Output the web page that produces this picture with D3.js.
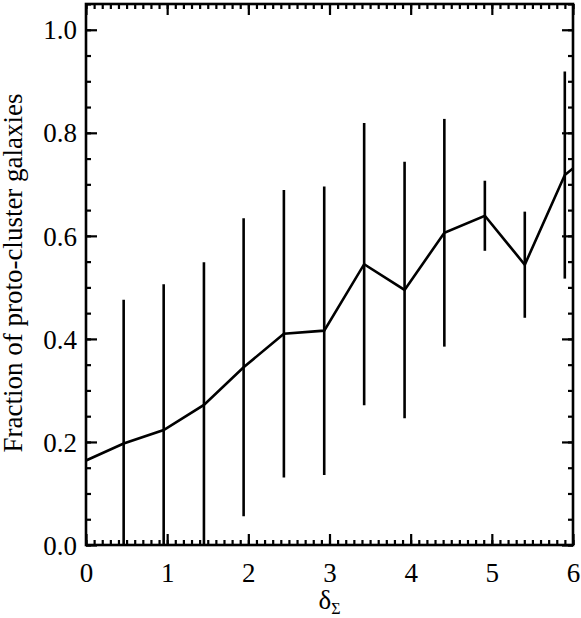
<!DOCTYPE html>
<html>
<head>
<meta charset="utf-8">
<script src="https://cdn.jsdelivr.net/npm/d3@7"></script>
<style>
  body { margin: 0; background: #fff; }
  svg text { font-family: "Liberation Serif", "Times New Roman", serif; fill: #000; }
</style>
</head>
<body>
<div id="chart"></div>
<script>
"use strict";

// bin centres (delta_Sigma), first and last entries are off-plot line ends
var binX = [-0.028, 0.464, 0.957, 1.453, 1.942, 2.438, 2.935, 3.427, 3.925, 4.415, 4.914, 5.406, 5.899, 6.39];
var fraction = [0.162, 0.197, 0.223, 0.272, 0.345, 0.410, 0.416, 0.545, 0.495, 0.606, 0.639, 0.544, 0.718, 0.781];
var fractionErr = [null, 0.279, 0.283, 0.277, 0.289, 0.279, 0.280, 0.274, 0.249, 0.221, 0.068, 0.103, 0.201, null];

var xTicks = [0, 1, 2, 3, 4, 5, 6];
var yTicks = [0.0, 0.2, 0.4, 0.6, 0.8, 1.0];

var width = 581, height = 618;
var margins = {top: 4, right: 8, bottom: 73, left: 86};
var graphWidth = width - margins.left - margins.right;
var graphHeight = height - margins.top - margins.bottom;
var serif = "'Liberation Serif', 'Times New Roman', serif";

var svg = d3.select("#chart").append("svg")
    .attr("width", width)
    .attr("height", height)
    .append("g")
    .attr("transform", "translate(" + margins.left + "," + margins.top + ")");

var x = d3.scaleLinear().domain([0, 6]).range([0, graphWidth]);
var y = d3.scaleLinear().domain([0, 1.05]).range([graphHeight, 0]);

svg.append("clipPath").attr("id", "plotclip")
    .append("rect").attr("width", graphWidth).attr("height", graphHeight);

var points = binX.map(function(d, i) {
    return {x: d, v: fraction[i], e: fractionErr[i]};
});

var plot = svg.append("g").attr("clip-path", "url(#plotclip)");

// error bars
plot.selectAll("line.err")
    .data(points.filter(function(d) { return d.e !== null; }))
    .enter().append("line")
    .attr("class", "err")
    .attr("x1", function(d) { return x(d.x); })
    .attr("x2", function(d) { return x(d.x); })
    .attr("y1", function(d) { return y(d.v - d.e); })
    .attr("y2", function(d) { return y(d.v + d.e); })
    .attr("stroke", "#000")
    .attr("stroke-width", 2.6);

var line = d3.line()
    .x(function(d) { return x(d.x); })
    .y(function(d) { return y(d.v); });

plot.append("path")
    .datum(points)
    .attr("d", line)
    .attr("fill", "none")
    .attr("stroke", "#000")
    .attr("stroke-width", 2.6)
    .attr("stroke-linejoin", "miter");

// axes, IDL style: ticks inside on all four sides
function tickAxis(axisFn, scale, minorStep, major, transform, len, minorLen, fmt) {
    var dom = scale.domain();
    var minor = d3.range(Math.round(dom[0] / minorStep), Math.round(dom[1] / minorStep) + 1)
        .map(function(k) { return k * minorStep; });
    svg.append("g")
        .attr("transform", transform)
        .call(axisFn(scale).tickValues(minor).tickSize(minorLen).tickFormat(""));
    return svg.append("g")
        .attr("transform", transform)
        .attr("font-family", serif)
        .call(axisFn(scale).tickValues(major).tickSize(len).tickPadding(0).tickFormat(fmt));
}

// bottom (ticks pointing up)
var xBottom = tickAxis(function(s) { return d3.axisTop(s); }, x, 0.1, xTicks,
    "translate(0," + graphHeight + ")", 11, 5, d3.format("d"));
xBottom.selectAll(".tick text")
    .attr("y", 37)
    .attr("dy", 0)
    .style("font-family", serif)
    .style("font-size", "27px");
// top
tickAxis(function(s) { return d3.axisBottom(s); }, x, 0.1, xTicks, "translate(0,0)", 11, 5, d3.format("d"))
    .selectAll(".tick text").remove();
// left (ticks pointing right)
var yLeft = tickAxis(function(s) { return d3.axisRight(s); }, y, 0.05, yTicks, "translate(0,0)", 11, 5, d3.format(".1f"));
yLeft.selectAll(".tick text")
    .attr("x", -9)
    .attr("dy", "0.34em")
    .style("text-anchor", "end")
    .style("font-family", serif)
    .style("font-size", "27px");
// right
tickAxis(function(s) { return d3.axisLeft(s); }, y, 0.05, yTicks, "translate(" + graphWidth + ",0)", 11, 5, d3.format(".1f"))
    .selectAll(".tick text").remove();

svg.selectAll(".domain").remove();
svg.selectAll(".tick line").attr("stroke", "#000").attr("stroke-width", 2.2);

// frame
svg.append("rect")
    .attr("width", graphWidth)
    .attr("height", graphHeight)
    .attr("fill", "none")
    .attr("stroke", "#000")
    .attr("stroke-width", 2.6);

// axis titles
var xTitle = svg.append("text")
    .attr("x", x(3))
    .attr("y", graphHeight + 64)
    .style("text-anchor", "middle")
    .style("font-family", serif)
    .style("font-size", "27px");
xTitle.append("tspan").text("δ");
xTitle.append("tspan").attr("dy", 5).style("font-size", "16px").text("Σ");

svg.append("text")
    .attr("transform", "translate(" + (22 - margins.left) + "," + (273 - margins.top) + ") rotate(-90)")
    .style("text-anchor", "middle")
    .style("font-family", serif)
    .style("font-size", "27px")
    .text("Fraction of proto-cluster galaxies");
</script>
</body>
</html>
